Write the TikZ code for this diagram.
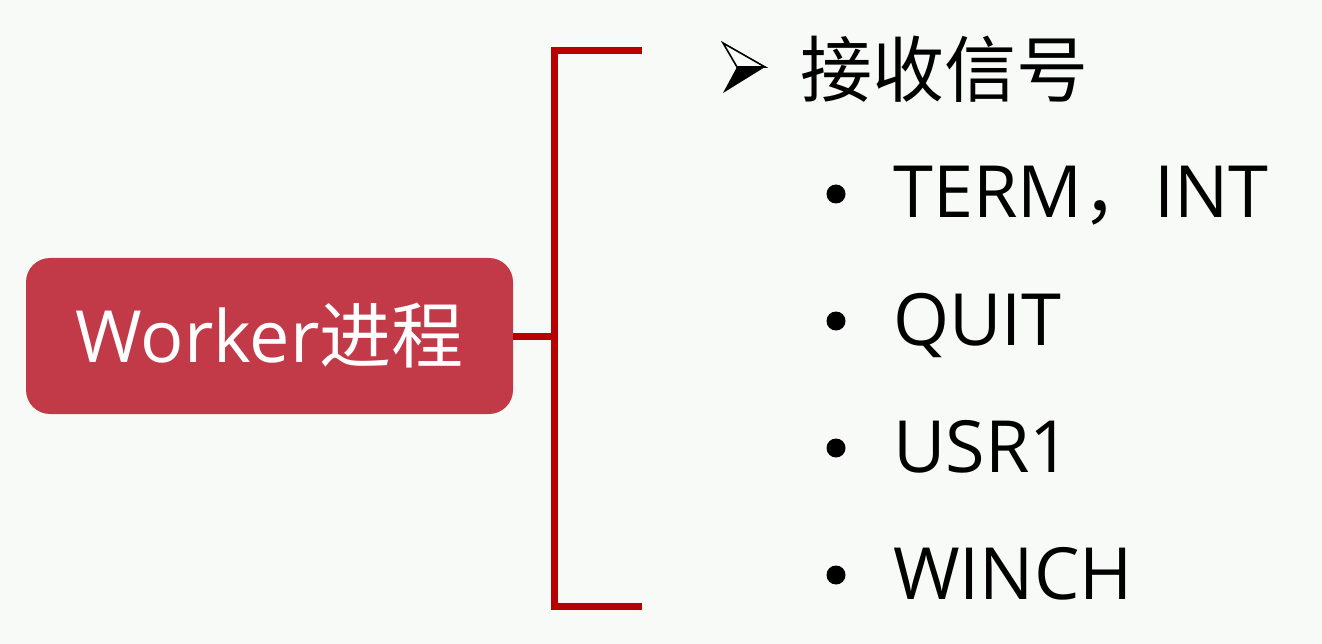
\documentclass[tikz,border=0pt]{standalone}
\usepackage{fontspec}
\setmainfont{Open Sans}
\newfontfamily\cjk{Noto Sans CJK SC}
\definecolor{bgc}{RGB}{248,250,247}
\definecolor{boxc}{RGB}{194,58,72}
\definecolor{brc}{RGB}{184,0,0}
\begin{document}
\begin{tikzpicture}[x=1pt,y=-1pt,
  mainbox/.style={fill=boxc,rounded corners=24pt,minimum width=487pt,minimum height=156pt,inner sep=0pt,text=white,font=\fontsize{72}{80}\selectfont},
  bracketline/.style={draw=brc,line width=7pt},
  itemtext/.style={anchor=base west,inner sep=0pt,font=\fontsize{72}{80}\selectfont},
  bulletdot/.style={fill=black,circle,minimum size=19pt,inner sep=0pt}]
\fill[bgc] (0,0) rectangle (1322,644);
\useasboundingbox (0,0) rectangle (1322,644);
\node[mainbox] (box) at (269.5,336) {Worker{\cjk 进程}};
\coordinate (j) at (554,336);
\coordinate (jt) at (554,51);
\coordinate (jb) at (554,606);
\coordinate (tt) at (642,51);
\coordinate (tb) at (642,606);
\draw[bracketline] (box.east) -- (j);
\draw[bracketline] (tt) -- (jt) -- (jb) -- (tb);
% arrow bullet
\coordinate (al) at (723,43);
\coordinate (at) at (765,67);
\coordinate (an) at (737,67);
\coordinate (ab) at (723,93);
\draw[line width=1.6pt,line join=miter] (al) -- (at) -- (an) -- cycle;
\fill[black] (an) -- (at) -- (ab) -- cycle;
\node[itemtext] (head) at (800,97) {\cjk 接收信号};
\node[bulletdot] (b1) at (836,194) {};
\node[bulletdot] (b2) at (836,321) {};
\node[bulletdot] (b3) at (836,448) {};
\node[bulletdot] (b4) at (836,575) {};
\node[itemtext] (t1) at (893,218) {TERM{\cjk ，}INT};
\node[itemtext] (t2) at (893,345) {QUIT};
\node[itemtext] (t3) at (893,472) {USR1};
\node[itemtext] (t4) at (893,599) {WINCH};
\end{tikzpicture}
\end{document}
